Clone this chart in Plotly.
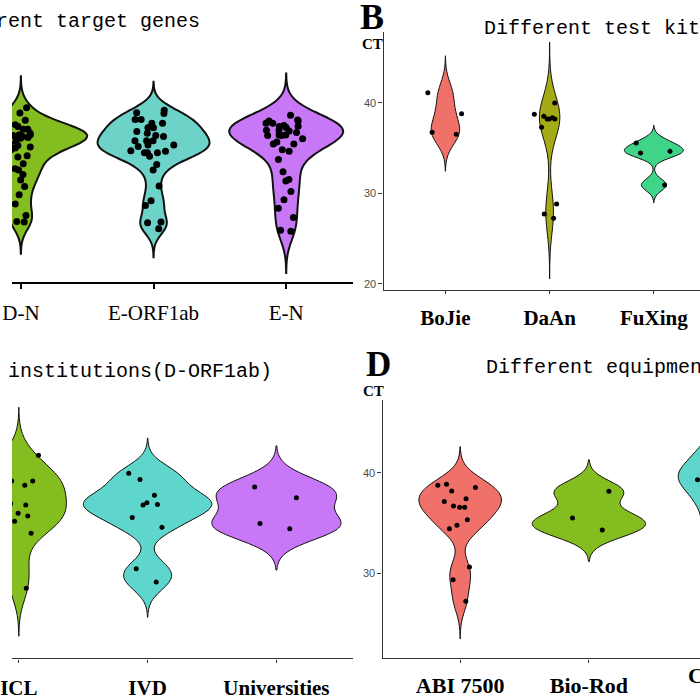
import numpy as np
import plotly.graph_objects as go

# ---------------- data (CT values) ----------------
# Panel A: Different target genes
A_CATS = ["D-N", "E-ORF1ab", "E-N"]
A_DN = [39.46, 38.89, 37.39, 37.09, 37.09, 37.09, 36.66, 36.66, 36.11, 36.30,
        35.46, 35.13, 35.02, 35.32, 34.84, 34.19, 34.04, 32.74, 32.12, 32.60,
        31.51, 29.87, 28.85, 26.93, 26.86,
        36.5, 36.4, 36.3, 36.2, 36.4, 36.6, 36.3, 36.5, 38.1, 37.6, 35.8, 33.3,
        30.8, 27.6]
A_EORF = [39.19, 38.83, 38.18, 38.18, 37.75, 37.75, 38.91, 37.26, 37.26, 36.84,
          36.30, 36.41, 36.66, 35.84, 35.84, 35.84, 35.35, 35.35, 34.73, 35.21,
          34.66, 34.51, 34.51, 34.51, 34.12, 33.21, 32.60, 30.85, 29.22, 28.68,
          26.78, 26.86, 26.13]
A_EN = [38.11, 37.39, 38.00, 38.00, 38.65, 37.75, 36.98, 36.98, 37.50, 37.28,
        37.42, 37.75, 36.41, 36.04, 36.73, 36.91, 36.47, 36.41, 36.47, 35.46,
        35.46, 35.68, 34.66, 34.84, 33.75, 32.41, 31.57, 31.40, 30.23, 29.33,
        28.38, 27.37, 25.85, 25.96]

# Panel B: Different test kits
B_CATS = ["BoJie", "DaAn", "FuXing"]
B_BOJIE = [41.09, 38.77, 36.73, 36.52]
B_DAAN = [38.33, 37.28, 38.51, 38.20, 38.20, 38.20, 38.73, 39.97, 28.82, 27.73, 27.26]
B_FUXING = [34.45, 34.63, 35.54, 30.93]

# Panel C: Different institutions (D-ORF1ab)
C_CATS = ["ICL", "IVD", "Universities"]
C_ICL = [41.76, 39.25, 39.20, 39.20, 38.76, 36.96, 35.72, 34.77, 30.82, 28.53,
         40.5, 37.5, 36.8, 36.0, 35.2, 34.0]
C_IVD = [39.97, 39.35, 37.78, 36.80, 37.03, 36.86, 35.56, 34.61, 30.49, 29.15]
C_UNIV = [38.60, 37.52, 34.97, 34.44]

# Panel D: Different equipment
D_CATS = ["ABI 7500", "Bio-Rod", "Cobas"]
D_ABI = [38.86, 38.76, 38.20, 38.53, 37.42, 37.16, 36.57, 36.70, 36.57, 35.33,
         34.80, 34.44, 30.65, 29.38, 27.25]
D_BIOROD = [38.17, 35.52, 34.31]
D_COBAS = [42.5, 40.8, 40.0, 39.3, 38.4, 36.8, 34.5]

Y_TICKS = [20, 30, 40]

# ---------------- helpers ----------------
W = H = 700


def px(x):
    return x / W


def py(y):
    return 1 - y / H


def nrd0(v):
    v = np.asarray(v, float)
    sd = v.std(ddof=1)
    q1, q3 = np.percentile(v, [25, 75])
    lo = min(sd, (q3 - q1) / 1.34)
    if lo <= 0:
        lo = sd if sd > 0 else 1.0
    return 0.9 * lo * len(v) ** -0.2


def peak_density(v, bw):
    v = np.asarray(v, float)
    g = np.linspace(v.min() - 3 * bw, v.max() + 3 * bw, 512)
    d = np.exp(-0.5 * ((g[:, None] - v[None, :]) / bw) ** 2).sum(1)
    d /= len(v) * bw * np.sqrt(2 * np.pi)
    return d.max()


fig = go.Figure()

panels = [
    dict(xa="x", ya="y", cats=A_CATS, groups=[A_DN, A_EORF, A_EN],
         colors=["#84BD1F", "#6DD3C9", "#C878F7"], max_half=0.50,
         lw=2.0, ms=7, jw=0.2),
    dict(xa="x2", ya="y2", cats=B_CATS, groups=[B_BOJIE, B_DAAN, B_FUXING],
         colors=["#F0716A", "#A5AA17", "#40D488"], max_half=0.283,
         lw=1.0, ms=5, jw=0.2),
    dict(xa="x3", ya="y3", cats=C_CATS, groups=[C_ICL, C_IVD, C_UNIV],
         colors=["#84BD1F", "#5FD6CB", "#C878F7"], max_half=0.50,
         lw=1.0, ms=5, jw=0.2),
    dict(xa="x4", ya="y4", cats=D_CATS, groups=[D_ABI, D_BIOROD, D_COBAS],
         colors=["#F0716A", "#84BD1F", "#5FD6CB"], max_half=0.44,
         lw=1.0, ms=5, jw=0.2),
]

for p in panels:
    bws = [nrd0(g) for g in p["groups"]]
    peaks = [peak_density(g, b) for g, b in zip(p["groups"], bws)]
    pmax = max(peaks)
    for cat, vals, col, bw, pk in zip(p["cats"], p["groups"], p["colors"], bws, peaks):
        fig.add_trace(go.Violin(
            x=[cat] * len(vals), y=vals, xaxis=p["xa"], yaxis=p["ya"],
            fillcolor=col, line=dict(color="#111111", width=p["lw"]),
            bandwidth=bw, spanmode="manual",
            span=[min(vals) - 3 * bw, max(vals) + 3 * bw],
            width=2 * p["max_half"] * pk / pmax, scalemode="width",
            points=False, showlegend=False, hoverinfo="skip"))
        fig.add_trace(go.Box(
            x=[cat] * len(vals), y=vals, xaxis=p["xa"], yaxis=p["ya"],
            boxpoints="all", jitter=1, pointpos=0, width=2 * p["jw"],
            fillcolor="rgba(0,0,0,0)", line=dict(width=0, color="rgba(0,0,0,0)"),
            marker=dict(color="black", size=p["ms"]),
            showlegend=False, hoverinfo="skip"))

serif = "Liberation Serif"
mono = "Liberation Mono"
sans = "Liberation Sans"

common_x = dict(type="category", showgrid=False, zeroline=False, tickangle=0,
                ticks="outside", showline=True)

fig.update_layout(
    width=W, height=H, margin=dict(l=0, r=0, t=0, b=0),
    paper_bgcolor="white", plot_bgcolor="white",
    violinmode="overlay", boxmode="overlay", showlegend=False,
    # Panel A
    xaxis=dict(**common_x, domain=[0, px(347)], anchor="y",
               categoryorder="array", categoryarray=A_CATS,
               range=[-0.067, 2.504], linecolor="black", linewidth=1.6,
               tickcolor="black", tickwidth=1.5, ticklen=5, ticklabelstandoff=6,
               tickfont=dict(family=serif, size=21, color="black")),
    yaxis=dict(domain=[py(286), py(60)], anchor="x", range=[20.22, 44.82],
               visible=False),
    # Panel B
    xaxis2=dict(**common_x, domain=[px(378), 1], anchor="y2",
                categoryorder="array", categoryarray=B_CATS,
                range=[-0.594, 2.443], linecolor="#333333", linewidth=1.2,
                tickcolor="#333333", ticklen=3, ticklabelstandoff=5,
                tickfont=dict(family=serif, size=21, color="black", weight="bold")),
    yaxis2=dict(domain=[py(294), py(32)], anchor="x2", range=[19.31, 47.84],
                showgrid=False, zeroline=False, showline=True,
                linecolor="#333333", linewidth=1.2, ticks="outside", ticklen=4,
                tickcolor="#333333", tickvals=Y_TICKS,
                tickfont=dict(family=sans, size=11, color="#4D4D4D")),
    # Panel C
    xaxis3=dict(**common_x, domain=[0, px(347)], anchor="y3",
                categoryorder="array", categoryarray=C_CATS,
                range=[-0.053, 2.595], linecolor="#333333", linewidth=1.2,
                tickcolor="#333333", ticklen=3, ticklabelstandoff=7,
                tickfont=dict(family=serif, size=21, color="black", weight="bold")),
    yaxis3=dict(domain=[py(667), py(400)], anchor="x3", range=[21.57, 47.75],
                visible=False),
    # Panel D
    xaxis4=dict(**common_x, domain=[px(377), 1], anchor="y4",
                categoryorder="array", categoryarray=D_CATS,
                range=[-0.603, 1.863], linecolor="#333333", linewidth=1.2,
                tickcolor="#333333", ticklen=3, ticklabelstandoff=4,
                tickfont=dict(family=serif, size=22, color="black", weight="bold")),
    yaxis4=dict(domain=[py(667), py(405)], anchor="x4", range=[21.57, 47.25],
                showgrid=False, zeroline=False, showline=True,
                linecolor="#333333", linewidth=1.2, ticks="outside", ticklen=4,
                tickcolor="#333333", tickvals=Y_TICKS[1:],
                tickfont=dict(family=sans, size=11, color="#4D4D4D")),
)

ann = [
    # titles
    dict(text="Different target genes", x=px(193), y=py(22), xanchor="right",
         yanchor="middle", font=dict(family=mono, size=20, color="black")),
    dict(text="Different test kits", x=px(478), y=py(29), xanchor="left",
         yanchor="middle", font=dict(family=mono, size=20, color="black")),
    dict(text="Different institutions(D-ORF1ab)", x=px(267), y=py(376),
         xanchor="right", yanchor="middle",
         font=dict(family=mono, size=20, color="black")),
    dict(text="Different equipment", x=px(480), y=py(372), xanchor="left",
         yanchor="middle", font=dict(family=mono, size=20, color="black")),
    # panel letters
    dict(text="<b>B</b>", x=px(366), y=py(17), xanchor="center", yanchor="middle",
         font=dict(family=serif, size=36, color="black")),
    dict(text="<b>D</b>", x=px(373), y=py(369), xanchor="center", yanchor="middle",
         font=dict(family=serif, size=35, color="black")),
    # axis titles
    dict(text="<b>CT</b>", x=px(367), y=py(45), xanchor="center", yanchor="middle",
         font=dict(family=serif, size=15, color="black")),
    dict(text="<b>CT</b>", x=px(368), y=py(396), xanchor="center", yanchor="middle",
         font=dict(family=serif, size=15, color="black")),
    # partially visible category label of panel D
    dict(text="<b>Cobas</b>", x=px(718), y=py(684), xanchor="center",
         yanchor="middle", font=dict(family=serif, size=22, color="black")),
]
for a in ann:
    a.update(xref="paper", yref="paper", showarrow=False)
fig.update_layout(annotations=ann)

fig.write_html(
    "out.html",
    config={"displayModeBar": False},
    post_script=("document.body.style.margin='0px';"
                 "document.body.style.overflow='hidden';"
                 "var d=document.getElementsByClassName('plotly-graph-div')[0];"
                 "d.style.position='fixed';d.style.left='0px';d.style.top='0px';"),
)
